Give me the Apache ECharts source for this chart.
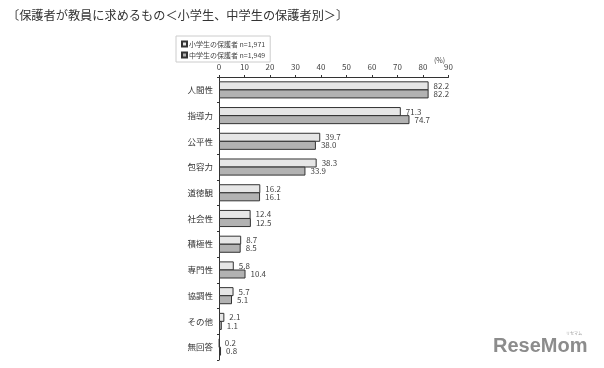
<!DOCTYPE html>
<html>
<head>
<meta charset="utf-8">
<script src="https://cdn.jsdelivr.net/npm/echarts@6/dist/echarts.min.js"></script>
<style>
  html, body { margin: 0; padding: 0; background: #fff; }
  #chart { width: 604px; height: 368px; }
</style>
</head>
<body>
<div id="chart"></div>
<script>
    // 項目と値（%）
    const categories = ['人間性', '指導力', '公平性', '包容力', '道徳観', '社会性', '積極性', '専門性', '協調性', 'その他', '無回答'];
    const elementary = [82.2, 71.3, 39.7, 38.3, 16.2, 12.4, 8.7, 5.8, 5.7, 2.1, 0.2];
    const juniorHigh = [82.2, 74.7, 38.0, 33.9, 16.1, 12.5, 8.5, 10.4, 5.1, 1.1, 0.8];
    const seriesNames = ['小学生の保護者', '中学生の保護者'];
    const sampleSizes = ['n=1,971', 'n=1,949'];

    const font = '"Noto Sans CJK JP", "Noto Sans", sans-serif';

    let chart = echarts.init(document.getElementById('chart'));

    const barLabel = {
        show: true, position: 'right', distance: 5,
        fontSize: 8, color: '#444', fontFamily: font,
        formatter: p => p.value.toFixed(1)
    };

    chart.setOption({
        animation: false,
        backgroundColor: '#fff',
        title: {
            text: '〔保護者が教員に求めるもの＜小学生、中学生の保護者別＞〕',
            left: 2, top: 4,
            textStyle: {fontSize: 12.2, fontWeight: 'normal', color: '#333', fontFamily: font}
        },
        legend: {
            orient: 'vertical',
            left: 176, top: 36,
            padding: [4, 5, 3, 5],
            itemGap: 3,
            itemWidth: 5, itemHeight: 5,
            icon: 'rect',
            borderColor: '#ccc', borderWidth: 1,
            data: seriesNames,
            formatter: name => name + ' ' + sampleSizes[seriesNames.indexOf(name)],
            textStyle: {
                padding: [0, 0, 0, -3],
                fontSize: 7, lineHeight: 8, color: '#444', fontFamily: font
            }
        },
        grid: {left: 219, right: 155.5, top: 77, bottom: 8, containLabel: false},
        xAxis: {
            type: 'value', position: 'top',
            min: 0, max: 90, interval: 10,
            axisLine: {show: true, lineStyle: {color: '#333', width: 1}},
            axisTick: {show: true, length: 2, lineStyle: {color: '#333'}},
            axisLabel: {fontSize: 8, color: '#444', margin: 6, fontFamily: font},
            splitLine: {show: false}
        },
        yAxis: {
            type: 'category', inverse: true,
            data: categories,
            axisLine: {show: true, lineStyle: {color: '#333', width: 1}},
            axisTick: {show: true, length: 2, inside: false, lineStyle: {color: '#333'}},
            axisLabel: {fontSize: 8.5, color: '#333', margin: 6, fontFamily: font}
        },
        graphic: [
            {type: 'text', left: 434, top: 57, style: {text: '(%)', fontSize: 7, fill: '#444', fontFamily: font}},
            {type: 'text', left: 493, top: 336, style: {text: 'ReseMom', fontSize: 20, fontWeight: 'bold', fill: '#8c8c8c', fontFamily: '"Liberation Sans", sans-serif'}},
            {type: 'text', left: 566, top: 331, style: {text: 'リセマム', fontSize: 4, fill: '#999', fontFamily: font}}
        ],
        series: [
            {
                name: seriesNames[0], type: 'bar', data: elementary,
                barWidth: 9, barGap: '-10%',
                itemStyle: {color: '#e6e6e6', borderColor: '#333', borderWidth: 1},
                label: barLabel
            },
            {
                name: seriesNames[1], type: 'bar', data: juniorHigh,
                barWidth: 9,
                itemStyle: {color: '#b2b2b2', borderColor: '#333', borderWidth: 1},
                label: barLabel
            }
        ]
    });
</script>
</body>
</html>
